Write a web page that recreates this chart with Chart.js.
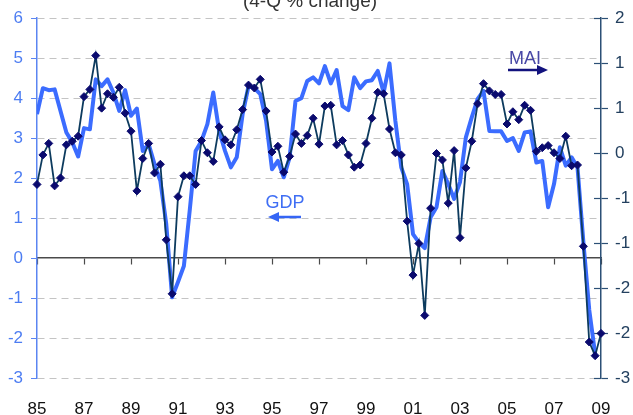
<!DOCTYPE html>
<html lang="en">
<head>
    <meta charset="UTF-8">
    <title>GDP vs MAI</title>
    <style>
        body {
            margin: 0;
            background: #ffffff;
        }
        #wrap {
            width: 633px;
            height: 415px;
            position: relative;
        }
    </style>
    <script src="https://cdn.jsdelivr.net/npm/chart.js"></script>
</head>
<body>
    <div id="wrap"><canvas id="myChart"></canvas></div>

    <script>
        // year labels along the bottom, one every 8 quarters (85Q1 .. 09Q1)
        const yearTicks = ['85', '87', '89', '91', '93', '95', '97', '99', '01', '03', '05', '07', '09'];

        // GDP, 4-Q % change, quarterly from 1985Q1 to 2008Q4 (left axis)
        const gdp = [
            3.60, 4.25, 4.20, 4.22, 3.68, 3.14, 2.90, 2.54, 3.25, 3.22,
            4.47, 4.30, 4.47, 4.14, 3.68, 4.20, 3.56, 3.74, 2.68, 2.85,
            2.35, 1.93, 0.85, -0.98, -0.60, -0.20, 1.20, 2.68, 2.93, 3.35,
            4.14, 3.18, 2.68, 2.27, 2.52, 3.60, 4.30, 4.25, 4.10, 3.43,
            2.22, 2.43, 2.02, 2.52, 3.93, 4.00, 4.43, 4.52, 4.37, 4.80,
            4.37, 4.70, 3.80, 3.70, 4.52, 4.25, 4.42, 4.45, 4.68, 4.14,
            4.87, 3.43, 2.27, 1.85, 0.60, 0.39, 0.25, 1.02, 1.27, 2.18,
            1.85, 1.48, 1.90, 3.02, 3.52, 3.98, 4.18, 3.18, 3.17, 3.17,
            2.93, 3.00, 2.68, 3.14, 3.17, 2.39, 2.43, 1.27, 1.85, 2.77,
            2.31, 2.52, 2.27, 0.40, -1.30, -2.40
        ];

        // MAI, quarterly from 1985Q1 to 2009Q1 (right axis)
        const mai = [
            -0.31, 0.10, 0.26, -0.33, -0.22, 0.24, 0.29, 0.36, 0.91, 1.01,
            1.48, 0.75, 0.95, 0.90, 1.04, 0.68, 0.43, -0.40, 0.05, 0.26,
            -0.15, -0.03, -1.08, -1.83, -0.48, -0.19, -0.19, -0.31, 0.30, 0.13,
            0.01, 0.49, 0.31, 0.24, 0.45, 0.73, 1.07, 1.03, 1.15, 0.71,
            0.14, 0.22, -0.14, 0.08, 0.39, 0.26, 0.37, 0.61, 0.25, 0.78,
            0.79, 0.24, 0.30, 0.10, -0.07, -0.04, 0.26, 0.61, 0.97, 0.95,
            0.46, 0.13, 0.10, -0.82, -1.57, -1.13, -2.13, -0.64, 0.12, 0.03,
            -0.57, 0.16, -1.05, -0.08, 0.29, 0.81, 1.09, 0.99, 0.94, 0.94,
            0.53, 0.70, 0.59, 0.79, 0.72, 0.15, 0.20, 0.23, 0.13, 0.05,
            0.36, -0.05, -0.04, -1.17, -2.50, -2.69, -2.38
        ];

        const FONT = "'Liberation Sans', Arial, sans-serif";

        // title (cut off at the top) + the GDP / MAI arrows
        const annotations = {
            id: 'annotations',
            afterDraw(chart) {
                const ctx = chart.ctx;
                ctx.save();
                ctx.font = '19px ' + FONT;
                ctx.fillStyle = '#333333';
                ctx.textAlign = 'center';
                ctx.textBaseline = 'alphabetic';
                ctx.fillText('(4-Q % change)', 310, 7);

                ctx.font = '18px ' + FONT;
                ctx.fillStyle = '#3f6ef4';
                ctx.fillText('GDP', 285, 208);
                arrow(ctx, 301, 268, 217, '#3565f5');

                ctx.fillStyle = '#4848a6';
                ctx.fillText('MAI', 525, 64);
                arrow(ctx, 508, 548, 70, '#12127e');
                ctx.restore();
            }
        };

        function arrow(ctx, x1, x2, y, color) {
            const dir = x2 > x1 ? 1 : -1;
            ctx.strokeStyle = color;
            ctx.fillStyle = color;
            ctx.lineWidth = 2.5;
            ctx.beginPath();
            ctx.moveTo(x1, y);
            ctx.lineTo(x2 - dir * 8, y);
            ctx.stroke();
            ctx.beginPath();
            ctx.moveTo(x2, y);
            ctx.lineTo(x2 - dir * 11, y - 5);
            ctx.lineTo(x2 - dir * 11, y + 5);
            ctx.closePath();
            ctx.fill();
        }

        // right axis tick marks also stick into the plot a bit
        const innerTicks = {
            id: 'innerTicks',
            beforeDatasetsDraw(chart) {
                const s = chart.scales.y2;
                const ctx = chart.ctx;
                ctx.save();
                ctx.strokeStyle = '#2c5076';
                ctx.lineWidth = 1.2;
                s.ticks.forEach(t => {
                    const py = Math.round(s.getPixelForValue(t.value)) + 0.5;
                    ctx.beginPath();
                    ctx.moveTo(s.left - 7, py);
                    ctx.lineTo(s.left, py);
                    ctx.stroke();
                });
                ctx.restore();
            }
        };

        const ctx = document.getElementById('myChart').getContext('2d');
        const myChart = new Chart(ctx, {
            type: 'line',
            data: {
                datasets: [
                    {
                        label: 'MAI',
                        data: mai.map((v, i) => ({ x: i, y: v })),
                        yAxisID: 'y2',
                        xAxisID: 'x',
                        borderColor: '#0d3b5e',
                        borderWidth: 1.8,
                        pointStyle: 'rectRot',
                        pointRadius: 4,
                        pointBackgroundColor: '#0a0a6e',
                        pointBorderColor: '#0a0a6e',
                        pointBorderWidth: 1,
                        tension: 0,
                        clip: false,
                        order: 0
                    },
                    {
                        label: 'GDP',
                        data: gdp.map((v, i) => ({ x: i, y: v })),
                        yAxisID: 'y',
                        xAxisID: 'x',
                        borderColor: '#3b6cff',
                        borderWidth: 4,
                        borderJoinStyle: 'round',
                        pointRadius: 0,
                        tension: 0,
                        order: 1
                    }
                ]
            },
            options: {
                responsive: true,
                maintainAspectRatio: false,
                animation: false,
                layout: { padding: { top: 17, left: 0, right: 0, bottom: 0 } },
                plugins: {
                    legend: { display: false },
                    tooltip: { enabled: false }
                },
                scales: {
                    x: {
                        type: 'linear',
                        position: 'bottom',
                        min: 0,
                        max: 96,
                        ticks: {
                            stepSize: 8,
                            autoSkip: false,
                            maxRotation: 0,
                            color: '#111111',
                            font: { size: 17, family: FONT },
                            padding: 13,
                            callback: v => yearTicks[v / 8]
                        },
                        grid: { display: false },
                        border: { display: false },
                        afterFit: s => { s.height = 37; }
                    },
                    x0: {
                        type: 'linear',
                        position: { y: 0 },
                        min: 0,
                        max: 96,
                        ticks: { stepSize: 8, display: false },
                        grid: { drawOnChartArea: false, tickLength: 6, tickColor: '#4a4a4a', tickWidth: 1.2 },
                        border: { color: '#4a4a4a', width: 1.5 }
                    },
                    y: {
                        position: 'left',
                        min: -3,
                        max: 6,
                        ticks: {
                            stepSize: 1,
                            color: '#4d7df2',
                            font: { size: 17, family: FONT },
                            padding: 8
                        },
                        grid: {
                            color: c => (c.tick && c.tick.value === 0) ? 'rgba(0,0,0,0)' : '#c4c4c4',
                            lineWidth: 1,
                            tickColor: '#5b85f2',
                            tickLength: 6
                        },
                        border: { color: '#5b85f2', width: 1.5, dash: [7, 5] },
                        afterFit: s => { s.width = 37; }
                    },
                    y2: {
                        position: 'right',
                        min: -3,
                        max: 2,
                        ticks: {
                            stepSize: 0.625,
                            color: '#23405f',
                            font: { size: 17, family: FONT },
                            padding: 7,
                            callback: v => Math.sign(v) * Math.round(Math.abs(v))
                        },
                        grid: { drawOnChartArea: false, tickColor: '#2c5076', tickLength: 7, tickWidth: 1.2 },
                        border: { color: '#2c5076', width: 1.5 },
                        afterFit: s => { s.width = 32; }
                    }
                }
            },
            plugins: [innerTicks, annotations]
        });
    </script>
</body>
</html>
